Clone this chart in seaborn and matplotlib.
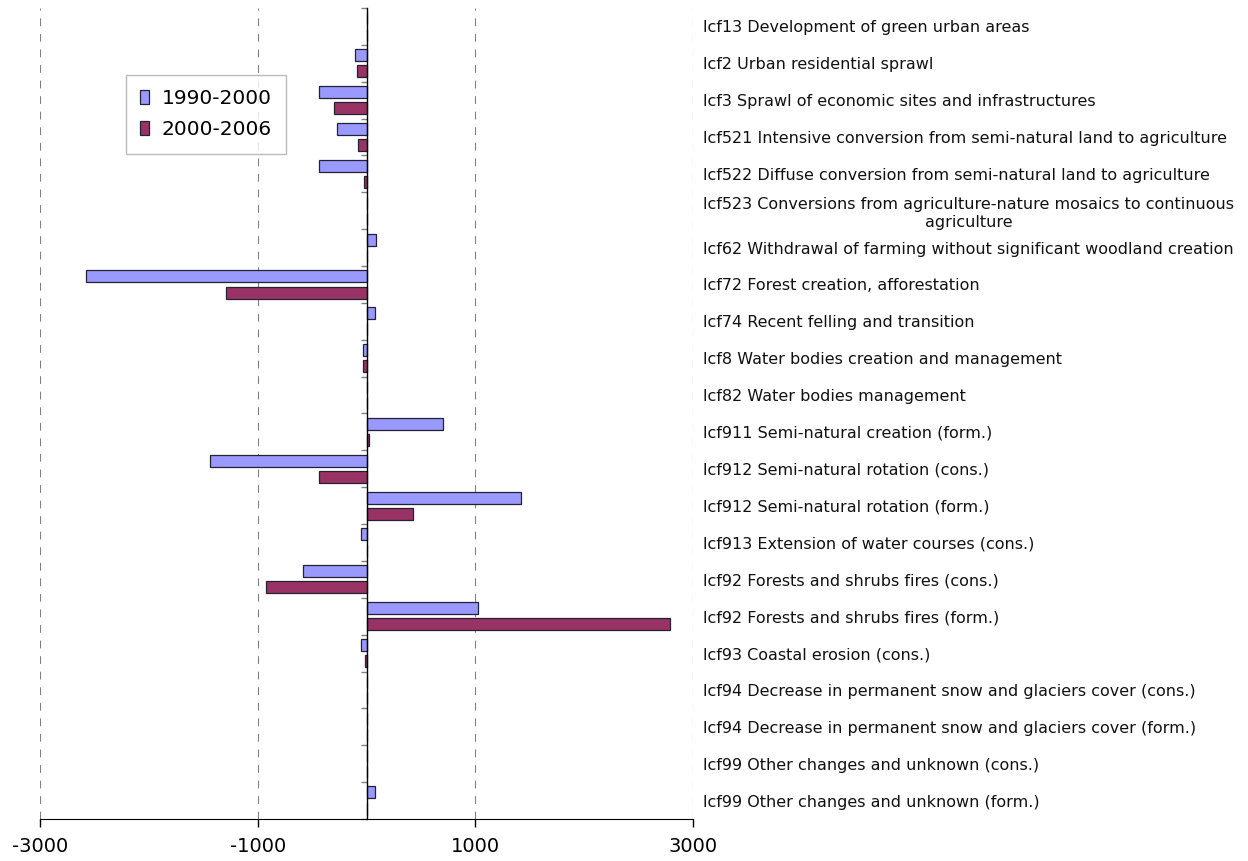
import numpy as np
import matplotlib
matplotlib.use("Agg")
import matplotlib.pyplot as plt
import pandas as pd
import seaborn as sns

# land cover flows
categories = [
    "lcf13 Development of green urban areas",
    "lcf2 Urban residential sprawl",
    "lcf3 Sprawl of economic sites and infrastructures",
    "lcf521 Intensive conversion from semi-natural land to agriculture",
    "lcf522 Diffuse conversion from semi-natural land to agriculture",
    "lcf523 Conversions from agriculture-nature mosaics to continuous\nagriculture",
    "lcf62 Withdrawal of farming without significant woodland creation",
    "lcf72 Forest creation, afforestation",
    "lcf74 Recent felling and transition",
    "lcf8 Water bodies creation and management",
    "lcf82 Water bodies management",
    "lcf911 Semi-natural creation (form.)",
    "lcf912 Semi-natural rotation (cons.)",
    "lcf912 Semi-natural rotation (form.)",
    "lcf913 Extension of water courses (cons.)",
    "lcf92 Forests and shrubs fires (cons.)",
    "lcf92 Forests and shrubs fires (form.)",
    "lcf93 Coastal erosion (cons.)",
    "lcf94 Decrease in permanent snow and glaciers cover (cons.)",
    "lcf94 Decrease in permanent snow and glaciers cover (form.)",
    "lcf99 Other changes and unknown (cons.)",
    "lcf99 Other changes and unknown (form.)",
]
periods = ["1990-2000", "2000-2006"]
vals_1990_2000 = [0, -110, -440, -275, -440, 0, 90, -2580, 75, -30, 0,
                  700, -1440, 1420, -50, -585, 1020, -50, 0, 0, 0, 75]
vals_2000_2006 = [0, -90, -295, -75, -20, 0, 0, -1290, 0, -30, 0,
                  25, -435, 425, 0, -920, 2790, -15, 0, 0, 0, 0]
colors = ["#9999FF", "#993366"]
xticks = [-3000, -1000, 1000, 3000]

df = pd.DataFrame({
    "category": categories * 2,
    "period": [periods[0]] * len(categories) + [periods[1]] * len(categories),
    "value": vals_1990_2000 + vals_2000_2006,
})

plt.rcParams["font.family"] = ["DejaVu Sans"]

fig = plt.figure(figsize=(12.48, 8.61), dpi=100)
ax = fig.add_axes([40 / 1248, 1 - 819 / 861, 653 / 1248, 811 / 861])

sns.barplot(data=df, x="value", y="category", hue="period", order=categories,
            hue_order=periods, palette=colors, saturation=1, orient="h",
            width=0.88, gap=0.26, edgecolor="#222233", linewidth=0.9,
            errorbar=None, ax=ax)

ax.set_xlim(-3000, 3000)
ax.set_xticks(xticks)
ax.set_xticklabels([str(t) for t in xticks], fontsize=14)
ax.set_xlabel("")
ax.set_ylabel("")

# grid
ax.set_axisbelow(True)
ax.xaxis.grid(True, linestyle=(0, (7, 7)), color="#808080", linewidth=0.8)
ax.yaxis.grid(False)

# zero axis with small category boundary ticks, labels on right
ax.spines["left"].set_position(("data", 0))
ax.spines["left"].set_color("black")
ax.spines["left"].set_linewidth(1.0)
ax.spines["right"].set_visible(False)
ax.spines["top"].set_visible(False)
ax.spines["bottom"].set_color("black")
ax.set_yticks(np.arange(-0.5, len(categories), 1), minor=True)
ax.tick_params(axis="y", which="major", left=False, right=False,
               labelleft=False, labelright=True, pad=4, labelsize=11.5)
ax.tick_params(axis="y", which="minor", left=True, right=False,
               length=4, width=1, color="#808080")
ax.tick_params(axis="x", which="major", length=6, width=1, pad=7)
for lab in ax.get_yticklabels():
    lab.set_multialignment("center")
    lab.set_color("#111111")

# legend
handles, labels = ax.get_legend_handles_labels()
ax.legend(handles, labels, loc="upper left", bbox_to_anchor=(0.132, 0.917),
          borderaxespad=0, frameon=True, fancybox=False, edgecolor="#aaaaaa",
          fontsize=14.5, handlelength=0.45, handleheight=0.7,
          handletextpad=0.6, labelspacing=0.6, borderpad=0.7)

fig.savefig("out.png", dpi=100)
